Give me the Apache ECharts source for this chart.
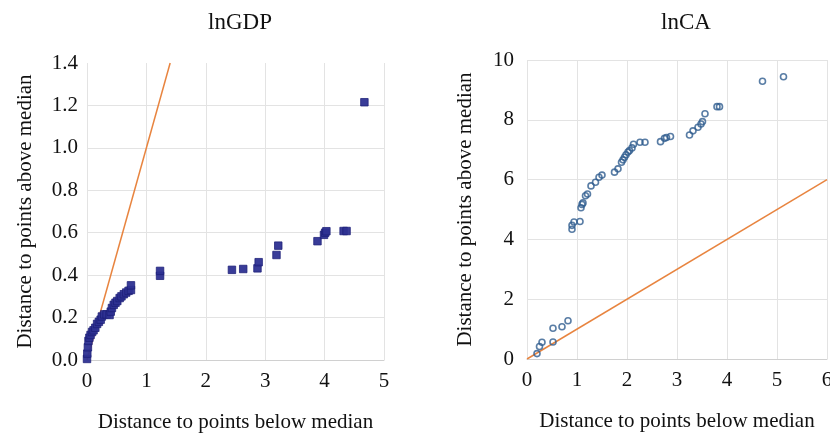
<!DOCTYPE html>
<html>
<head>
<meta charset="utf-8">
<style>
    html,body{margin:0;padding:0;background:#fff;}
    #chart{width:830px;height:435px;}
</style>
</head>
<body>
<div id="chart"></div>
<script src="https://cdn.jsdelivr.net/npm/echarts@6/dist/echarts.min.js"></script>
<script>
    // lnGDP: distance below median vs distance above median
    var gdpPoints = [
        [0.00,0.005],[0.005,0.03],[0.015,0.06],[0.025,0.09],[0.04,0.105],[0.06,0.118],
        [0.085,0.132],[0.11,0.14],[0.14,0.152],[0.17,0.17],[0.2,0.18],[0.23,0.19],
        [0.25,0.205],[0.29,0.215],[0.33,0.215],[0.38,0.212],[0.4,0.228],[0.42,0.245],
        [0.45,0.26],[0.48,0.27],[0.51,0.278],[0.55,0.292],[0.58,0.3],[0.62,0.31],
        [0.66,0.318],[0.7,0.326],[0.74,0.33],[0.74,0.352],[1.23,0.397],[1.23,0.42],
        [2.44,0.425],[2.63,0.429],[2.87,0.432],[2.89,0.461],[3.19,0.495],[3.22,0.539],
        [3.88,0.56],[3.99,0.59],[4.01,0.6],[4.03,0.607],[4.32,0.608],[4.37,0.608],[4.67,1.215]
    ];
    var gdpDiagonal = [[0, 0], [1.4, 1.4]];

    // lnCA
    var caPoints = [
        [0.20,0.18],[0.25,0.42],[0.30,0.56],[0.52,0.57],[0.52,1.03],[0.70,1.08],[0.82,1.28],
        [0.90,4.34],[0.90,4.47],[0.94,4.58],[1.06,4.60],[1.08,5.06],[1.10,5.17],[1.12,5.22],
        [1.17,5.46],[1.21,5.52],[1.28,5.79],[1.37,5.91],[1.44,6.08],[1.50,6.15],[1.75,6.25],
        [1.82,6.36],[1.89,6.58],[1.92,6.66],[1.95,6.75],[1.98,6.83],[2.02,6.92],[2.05,6.97],
        [2.10,7.06],[2.13,7.18],[2.26,7.25],[2.36,7.25],[2.67,7.27],[2.75,7.38],[2.79,7.41],
        [2.87,7.44],[3.25,7.49],[3.32,7.63],[3.42,7.75],[3.48,7.86],[3.51,7.94],[3.56,8.20],
        [3.80,8.44],[3.85,8.44],[4.71,9.29],[5.13,9.44]
    ];
    var caDiagonal = [[0, 0], [6, 6]];

    var titles = ['lnGDP', 'lnCA'];
    var xName = 'Distance to points below median';
    var yName = 'Distance to points above median';

    var font = '"Liberation Serif", "DejaVu Serif", serif';
    var gridColor = '#e3e3e3';
    var orange = '#E8843F';

    function xAxisOf(idx, max) {
        return {
            gridIndex: idx, type: 'value', min: 0, max: max, interval: 1,
            name: xName, nameLocation: 'middle', nameGap: 52,
            nameTextStyle: {fontFamily: font, fontSize: 21, color: '#111'},
            axisLine: {show: true, lineStyle: {color: '#d0d0d0'}},
            axisTick: {show: false},
            axisLabel: {fontFamily: font, fontSize: 21, color: '#111', margin: 11},
            splitLine: {show: true, lineStyle: {color: gridColor}}
        };
    }

    var myChart = echarts.init(document.getElementById('chart'));
    var option = {
        animation: false,
        title: [
            {text: titles[0], left: 235, top: 6, textAlign: 'center',
             textStyle: {fontFamily: font, fontSize: 23, fontWeight: 'normal', color: '#111'}},
            {text: titles[1], left: 681, top: 6, textAlign: 'center',
             textStyle: {fontFamily: font, fontSize: 23, fontWeight: 'normal', color: '#111'}}
        ],
        grid: [
            {left: 87, top: 63, width: 297, height: 297, outerBoundsMode: 'none'},
            {left: 527, top: 60, width: 300, height: 299, outerBoundsMode: 'none'}
        ],
        xAxis: [xAxisOf(0, 5), xAxisOf(1, 6)],
        yAxis: [
            {
                gridIndex: 0, type: 'value', min: 0, max: 1.4, interval: 0.2,
                name: yName, nameLocation: 'middle', nameGap: 51,
                nameTextStyle: {fontFamily: font, fontSize: 21, color: '#111'},
                axisLine: {show: false}, axisTick: {show: false},
                axisLabel: {fontFamily: font, fontSize: 21, color: '#111', margin: 9,
                    formatter: function (v) { return v.toFixed(1); }},
                splitLine: {show: true, showMaxLine: false, lineStyle: {color: gridColor}}
            },
            {
                gridIndex: 1, type: 'value', min: 0, max: 10, interval: 2,
                name: yName, nameLocation: 'middle', nameGap: 51,
                nameTextStyle: {fontFamily: font, fontSize: 21, color: '#111'},
                axisLine: {show: false}, axisTick: {show: false},
                axisLabel: {fontFamily: font, fontSize: 21, color: '#111', margin: 13},
                splitLine: {show: true, lineStyle: {color: gridColor}}
            }
        ],
        series: [
            {
                type: 'line', xAxisIndex: 0, yAxisIndex: 0, data: gdpDiagonal,
                symbol: 'none', lineStyle: {color: orange, width: 1.5}, z: 1
            },
            {
                type: 'scatter', xAxisIndex: 0, yAxisIndex: 0, data: gdpPoints,
                symbol: 'rect', symbolSize: 7.5,
                itemStyle: {color: '#2E3192', borderColor: '#1c1f78', borderWidth: 0.8, opacity: 0.95}, z: 3
            },
            {
                type: 'line', xAxisIndex: 1, yAxisIndex: 1, data: caDiagonal,
                symbol: 'none', lineStyle: {color: orange, width: 1.5}, z: 1
            },
            {
                type: 'scatter', xAxisIndex: 1, yAxisIndex: 1, data: caPoints,
                symbol: 'circle', symbolSize: 6,
                itemStyle: {color: 'rgba(255,255,255,0)', borderColor: '#2F5C8E', borderWidth: 1.6}, z: 3
            }
        ]
    };
    myChart.setOption(option);
</script>
</body>
</html>
